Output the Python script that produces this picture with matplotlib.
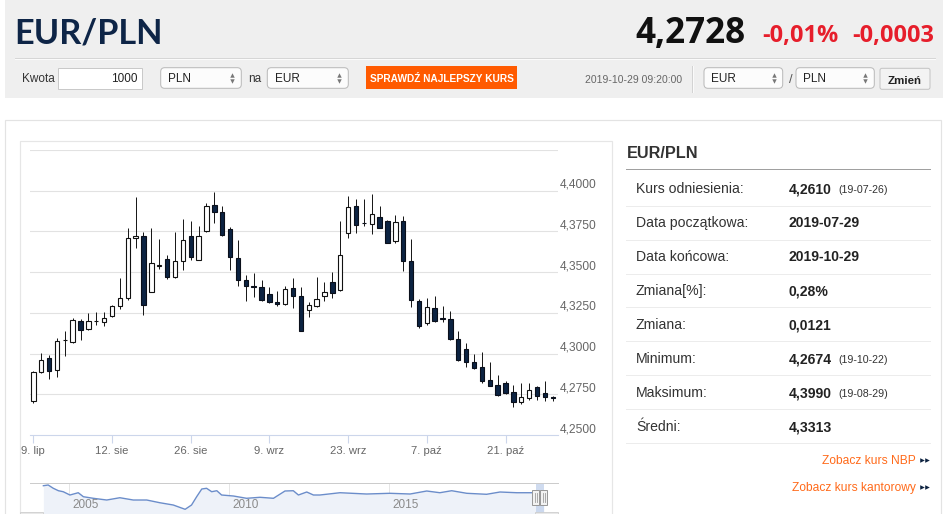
import matplotlib
matplotlib.use("Agg")
import matplotlib.pyplot as plt
from matplotlib.patches import Rectangle, FancyBboxPatch
import numpy as np
import pandas as pd

W, H = 945, 514
PT = 72 / 100  # points per pixel at dpi 100

# ---------------- data ----------------
dates = pd.bdate_range("2019-07-29", "2019-10-29")
opens = [4.2711, 4.2885, 4.2973, 4.2897, 4.3082, 4.3069, 4.3198, 4.3151, 4.3201, 4.3196,
         4.3233, 4.3294, 4.3339, 4.3710, 4.3724, 4.3380, 4.3539, 4.3581, 4.3468, 4.3566,
         4.3724, 4.3577, 4.3755, 4.3914, 4.3871, 4.3765, 4.3587, 4.3454, 4.3412, 4.3411,
         4.3364, 4.3319, 4.3302, 4.3403, 4.3351, 4.3270, 4.3292, 4.3351, 4.3442, 4.3392,
         4.3738, 4.3906, 4.3801, 4.3793, 4.3836, 4.3816, 4.3693, 4.3816, 4.3570, 4.3321,
         4.3186, 4.3278, 4.3217, 4.3212, 4.3090, 4.3028, 4.2950, 4.2916, 4.2836, 4.2809,
         4.2817, 4.2762, 4.2705, 4.2725, 4.2793, 4.2756, 4.2731]
highs = [4.2893, 4.3004, 4.2991, 4.3094, 4.3141, 4.3216, 4.3212, 4.3247, 4.3253, 4.3257,
         4.3298, 4.3466, 4.3771, 4.3959, 4.3744, 4.3769, 4.3703, 4.3605, 4.3748, 4.3826,
         4.3812, 4.3785, 4.3924, 4.3990, 4.3904, 4.3775, 4.3695, 4.3482, 4.3493, 4.3454,
         4.3407, 4.3382, 4.3417, 4.3464, 4.3407, 4.3315, 4.3472, 4.3442, 4.3499, 4.3812,
         4.3965, 4.3949, 4.3949, 4.3980, 4.3908, 4.3820, 4.3851, 4.3842, 4.3703, 4.3335,
         4.3341, 4.3356, 4.3294, 4.3264, 4.3137, 4.3065, 4.2998, 4.3008, 4.2948, 4.2871,
         4.2834, 4.2807, 4.2820, 4.2820, 4.2803, 4.2834, 4.2742]
lows = [4.2697, 4.2879, 4.2844, 4.2854, 4.2987, 4.3065, 4.3086, 4.3147, 4.3178, 4.3171,
        4.3223, 4.3274, 4.3331, 4.3648, 4.3239, 4.3376, 4.3519, 4.3458, 4.3466, 4.3515,
        4.3577, 4.3574, 4.3744, 4.3800, 4.3724, 4.3515, 4.3417, 4.3321, 4.3345, 4.3325,
        4.3311, 4.3290, 4.3298, 4.3282, 4.3137, 4.3227, 4.3288, 4.3321, 4.3339, 4.3386,
        4.3709, 4.3740, 4.3781, 4.3734, 4.3769, 4.3677, 4.3677, 4.3509, 4.3288, 4.3155,
        4.3178, 4.3196, 4.3196, 4.3086, 4.2957, 4.2916, 4.2905, 4.2820, 4.2799, 4.2742,
        4.2752, 4.2674, 4.2691, 4.2717, 4.2717, 4.2711, 4.2711]
closes = [4.2889, 4.2963, 4.2891, 4.3079, 4.3084, 4.3204, 4.3147, 4.3198, 4.3203, 4.3216,
          4.3292, 4.3341, 4.3707, 4.3724, 4.3298, 4.3554, 4.3541, 4.3468, 4.3566, 4.3695,
          4.3591, 4.3724, 4.3908, 4.3867, 4.3730, 4.3595, 4.3454, 4.3417, 4.3410, 4.3329,
          4.3315, 4.3306, 4.3394, 4.3356, 4.3141, 4.3298, 4.3335, 4.3380, 4.3370, 4.3605,
          4.3900, 4.3791, 4.3799, 4.3855, 4.3771, 4.3681, 4.3806, 4.3570, 4.3329, 4.3171,
          4.3288, 4.3198, 4.3215, 4.3090, 4.2963, 4.2946, 4.2914, 4.2834, 4.2803, 4.2746,
          4.2756, 4.2705, 4.2732, 4.2779, 4.2738, 4.2732, 4.2728]

y_ticks = [4.25, 4.275, 4.30, 4.325, 4.35, 4.375, 4.40]
grid_levels = [4.275, 4.30, 4.325, 4.35, 4.375, 4.40, 4.425]
x_tick_dates = ["2019-07-29", "2019-08-12", "2019-08-26", "2019-09-09",
                "2019-09-23", "2019-10-07", "2019-10-21"]
x_tick_labels = ["9. lip", "12. sie", "26. sie", "9. wrz", "23. wrz", "7. paź", "21. paź"]

nav_years = [2004.19, 2004.34, 2004.50, 2004.66, 2004.81, 2005.02, 2005.28, 2005.44, 2005.75,
             2006.17, 2006.58, 2007.00, 2007.42, 2007.83, 2008.25, 2008.62, 2008.82, 2008.98,
             2009.14, 2009.29, 2009.45, 2009.61, 2009.76, 2010.13, 2010.54, 2010.96, 2011.38,
             2011.74, 2012.00, 2012.16, 2012.42, 2012.63, 2012.83, 2013.46, 2014.29, 2015.02,
             2015.65, 2016.17, 2016.58, 2016.95, 2017.42, 2018.04, 2018.46, 2018.98, 2019.50,
             2019.83]
nav_rates = [4.85, 4.90, 4.67, 4.50, 4.43, 4.20, 4.36, 4.08, 3.97, 3.85, 4.01, 3.85, 3.85,
             3.66, 3.50, 3.20, 3.50, 4.08, 4.62, 4.67, 4.43, 4.50, 4.20, 4.13, 3.97, 4.04,
             3.97, 4.48, 4.50, 4.20, 4.41, 4.20, 4.20, 4.36, 4.27, 4.32, 4.27, 4.48, 4.36,
             4.50, 4.32, 4.25, 4.41, 4.36, 4.36, 4.27]
nav_tick_years = [2005, 2010, 2015]

pair = "EUR/PLN"
last_rate = "4,2728"
change_pct = "-0,01%"
change_abs = "-0,0003"
timestamp = "2019-10-29 09:20:00"
row_labels = ["Kurs odniesienia:", "Data początkowa:", "Data końcowa:", "Zmiana[%]:",
              "Zmiana:", "Minimum:", "Maksimum:", "Średni:"]
row_values = ["4,2610", "2019-07-29", "2019-10-29", "0,28%", "0,0121", "4,2674", "4,3990", "4,3313"]
row_notes = ["(19-07-26)", "", "", "", "", "(19-10-22)", "(19-08-29)", ""]

# ---------------- figure ----------------
fig = plt.figure(figsize=(W / 100, H / 100), dpi=100)
fig.patch.set_facecolor("white")

bg = fig.add_axes([0, 0, 1, 1], zorder=0)
bg.set_xlim(0, W); bg.set_ylim(H, 0); bg.axis("off")
fg = fig.add_axes([0, 0, 1, 1], zorder=5)
fg.set_xlim(0, W); fg.set_ylim(H, 0); fg.axis("off"); fg.patch.set_alpha(0)

SANS = ["Liberation Sans", "DejaVu Sans"]


def rect(a, x0, y0, x1, y1, **kw):
    a.add_patch(Rectangle((x0, y0), x1 - x0, y1 - y0, **kw))


def rbox(a, x0, y0, x1, y1, r=4, **kw):
    a.add_patch(FancyBboxPatch((x0, y0), x1 - x0, y1 - y0,
                               boxstyle=f"round,pad=0,rounding_size={r}", **kw))


def txt(a, x, y, s, px, family=SANS, **kw):
    kw.setdefault("va", "baseline")
    a.text(x, y, s, fontsize=px * PT, family=family, **kw)


# header
rect(bg, 5, 0, 943, 98, facecolor="#efefef", edgecolor="none")
bg.plot([15, 935], [58, 58], color="#d6d6d6", lw=1 * PT)
bg.plot([15, 935], [59, 59], color="#fbfbfb", lw=1 * PT)
txt(bg, 14.5, 43.3, pair, 34.3, family=["Lato", "DejaVu Sans"], weight="bold", color="#0e2547")
txt(bg, 635, 43.3, last_rate, 35, family=["Open Sans", "DejaVu Sans"], weight="bold", color="#111111")
txt(bg, 762, 41.7, change_pct, 23.5, family=["Open Sans", "DejaVu Sans"], weight="bold", color="#e61e2b")
txt(bg, 852, 41.7, change_abs, 23.5, family=["Open Sans", "DejaVu Sans"], weight="bold", color="#e61e2b")

# controls row
txt(bg, 22, 82.4, "Kwota", 11.8, color="#333333")
rect(bg, 58.3, 67.7, 142.3, 89, facecolor="white", edgecolor="#c9c9c9", lw=1 * PT)
txt(bg, 138, 82.4, "1000", 11.8, color="#222222", ha="right")


def select(x0, x1, label):
    rbox(bg, x0, 67.7, x1, 88.3, r=4, facecolor="#fcfcfc", edgecolor="#b9b9b9", lw=1 * PT)
    txt(bg, x0 + 7.5, 82.2, label, 11.8, color="#222222")
    bg.plot([x1 - 9], [75.3], marker="^", ms=3.2, color="#777777", mec="none")
    bg.plot([x1 - 9], [81.3], marker="v", ms=3.2, color="#777777", mec="none")


select(160.7, 241.3, "PLN")
txt(bg, 248, 82.2, "na", 11.8, color="#333333")
select(267.3, 348.3, "EUR")
rect(bg, 366, 66.3, 517.3, 89, facecolor="#ff5a00", edgecolor="none")
txt(bg, 441.7, 81.5, "SPRAWDŹ NAJLEPSZY KURS", 10.1, color="white", weight="bold", ha="center")
txt(bg, 585, 83.3, timestamp, 10.4, color="#666666")
bg.plot([692.3, 692.3], [66, 92], color="#d3d3d3", lw=1 * PT)
bg.plot([693.3, 693.3], [66, 92], color="#fafafa", lw=1 * PT)
select(704, 782.7, "EUR")
txt(bg, 789, 83, "/", 13, color="#555555")
select(796, 874.3, "PLN")
rbox(bg, 880, 68.3, 930, 89.3, r=2, facecolor="#f3f3f3", edgecolor="#c4c4c4", lw=1 * PT)
txt(bg, 905, 83.5, "Zmień", 11.5, color="#222222", weight="bold", ha="center")

# content boxes
rect(bg, 5, 119.5, 941, 530, facecolor="white", edgecolor="#e3e3e3", lw=1.2 * PT)
rect(bg, 20, 140.5, 611.5, 530, facecolor="white", edgecolor="#e6e6e6", lw=1.2 * PT)

# right info panel
txt(bg, 626.5, 158.3, pair, 16.2, color="#333333", weight="bold")
bg.plot([626, 930], [169.3, 169.3], color="#a0a0a0", lw=1 * PT)
for k, (lab, val, note) in enumerate(zip(row_labels, row_values, row_notes)):
    yc = 188.3 + 33.96 * k
    txt(bg, 636, yc + 5, lab, 14, color="#333333")
    txt(bg, 788.5, yc + 5, val, 14, color="#222222", weight="bold")
    if note:
        txt(bg, 838, yc + 4.5, note, 10.6, color="#333333")
    bg.plot([626, 930], [yc + 17.3, yc + 17.3], color="#ececec", lw=1 * PT)
for yc, s in [(460, "Zobacz kurs NBP"), (486.7, "Zobacz kurs kantorowy")]:
    txt(bg, 916, yc + 4.3, s, 12, color="#ff6a1a", ha="right")
    bg.plot([922.2, 927.2], [yc, yc], ls="none", marker=">", ms=3.3, color="#0d2240", mec="none")

# ---------------- candlestick chart ----------------
ax = fig.add_axes([30 / W, 1 - 435 / H, 528 / W, 285 / H], zorder=2)
ax.set_facecolor("white")
ax.set_xlim(-0.42, 66.67)
ax.set_ylim(4.25, 4.425)
for v in grid_levels:
    ax.axhline(v, color="#e2e2e2", lw=1.1 * PT, zorder=1)
for s in ["top", "left", "right"]:
    ax.spines[s].set_visible(False)
ax.spines["bottom"].set_color("#ccd6eb")
ax.spines["bottom"].set_linewidth(1.1 * PT)
ax.set_yticks([])

xi = np.arange(len(dates))
o = np.array(opens); c = np.array(closes)
hi = np.array(highs); lo = np.array(lows)
up = c >= o
bottom = np.minimum(o, c)
height = np.maximum(np.abs(c - o), 0.00004)
ax.vlines(xi, lo, hi, color="#1a1a1a", lw=1.0 * PT, zorder=2)
ax.bar(xi[up], height[up], bottom=bottom[up], width=0.56, facecolor="white",
       edgecolor="#111111", lw=1.1 * PT, zorder=3)
ax.bar(xi[~up], height[~up], bottom=bottom[~up], width=0.56, facecolor="#0c2342",
       edgecolor="#0a0f1a", lw=1.1 * PT, zorder=3)

date_pos = {d.strftime("%Y-%m-%d"): i for i, d in enumerate(dates)}
ax.set_xticks([date_pos[d] for d in x_tick_dates])
ax.set_xticklabels(x_tick_labels, family=SANS)
ax.tick_params(axis="x", length=8 * PT, width=1.1 * PT, color="#ccd6eb",
               labelsize=11.3 * PT, labelcolor="#666666", pad=1.8)
for v in y_ticks:
    ax.annotate(f"{v:.4f}".replace(".", ","), xy=(1, v), xycoords=("axes fraction", "data"),
                xytext=(1.6 * PT, 6 * PT), textcoords="offset points", ha="left", va="center",
                fontsize=12 * PT, family=SANS, color="#666666", annotation_clip=False)

# ---------------- navigator ----------------
NX0, NX1 = 2003.772, 2020.272
nav = fig.add_axes([30 / W, 0, 528 / W, 31 / H], zorder=2)
nav.set_xlim(NX0, NX1)
nav.set_ylim(2.872, 5.04)
nav.axis("off")
for yr in nav_tick_years:
    nav.axvline(yr, color="#e6e6e6", lw=1 * PT, zorder=1)
nav.fill_between(nav_years, nav_rates, 2.872, color="#eef2f9", lw=0, zorder=2)
nav.plot(nav_years, nav_rates, color="#6b8dca", lw=1.0, zorder=3)


def dec_year(d):
    return d.year + (d.dayofyear - 1) / 365.0


sel0, sel1 = dec_year(dates[0]), dec_year(dates[-1])
nav.axvspan(sel0, sel1, color="#c3d2ec", alpha=0.8, lw=0, zorder=4)


def nav_px(yr):
    return 30 + (yr - NX0) / (NX1 - NX0) * 528


fg.plot([30, 558], [483, 483], color="#cccccc", lw=1 * PT)
for yr in nav_tick_years:
    txt(fg, nav_px(yr) + 3.5, 508.3, str(yr), 11.8, color="#8a8a8a")
for yr in (sel0, sel1):
    xp = nav_px(yr)
    rect(fg, xp - 3.5, 489.5, xp + 3.5, 505, facecolor="#f2f2f2", edgecolor="#999999", lw=1 * PT)
    fg.plot([xp - 1, xp - 1], [493, 501.5], color="#999999", lw=0.8 * PT)
    fg.plot([xp + 1, xp + 1], [493, 501.5], color="#999999", lw=0.8 * PT)
rect(fg, 20, 512, 43, 516, facecolor="#e8e8e8", edgecolor="#cccccc", lw=0.8 * PT)
rect(fg, 535, 512, 558, 516, facecolor="#e8e8e8", edgecolor="#cccccc", lw=0.8 * PT)

fig.savefig("out.png", dpi=100)
